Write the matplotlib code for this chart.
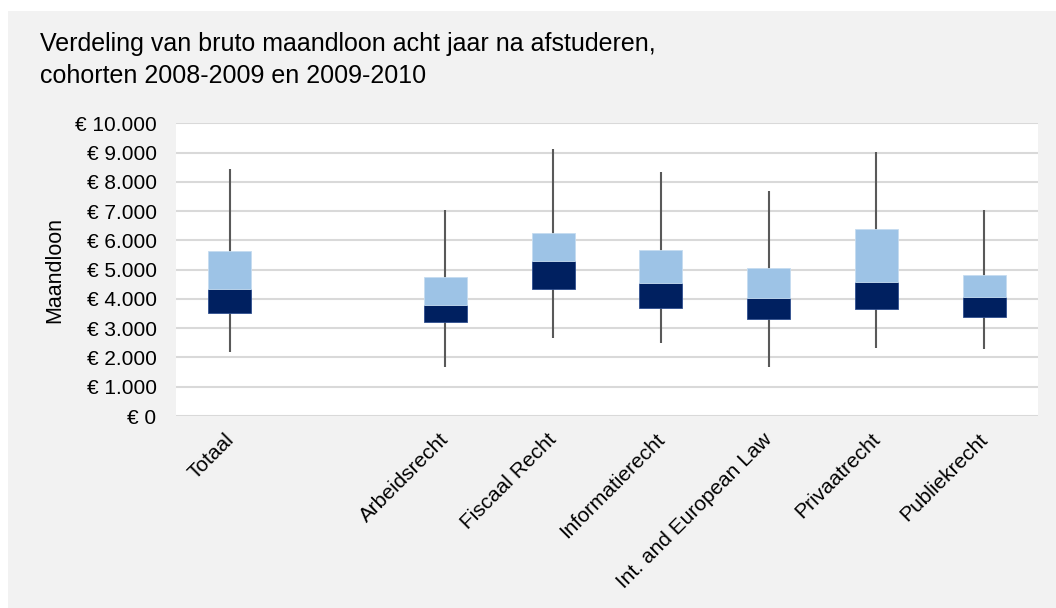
import matplotlib
matplotlib.use("Agg")
import matplotlib.pyplot as plt
import matplotlib.transforms as mtransforms
from matplotlib.patches import Rectangle
from matplotlib.ticker import FuncFormatter, MultipleLocator

plt.rcParams['font.family'] = ['Liberation Sans', 'DejaVu Sans']

categories = ["Totaal", "", "Arbeidsrecht", "Fiscaal Recht", "Informatierecht",
              "Int. and European Law", "Privaatrecht", "Publiekrecht"]
minimum = [2175, None, 1690, 2680, 2480, 1660, 2310, 2280]
q1      = [3520, None, 3220, 4350, 3680, 3310, 3670, 3380]
median  = [4350, None, 3780, 5300, 4540, 4020, 4570, 4070]
q3      = [5640, None, 4750, 6250, 5680, 5050, 6390, 4810]
maximum = [8430, None, 7050, 9130, 8340, 7670, 9010, 7050]

W, H = 1056, 608
fig = plt.figure(figsize=(W / 100, H / 100), dpi=100, facecolor='white')
fig.patches.append(Rectangle((8 / W, 0), 1 - 8 / W, 1 - 11 / H, transform=fig.transFigure,
                             facecolor='#f2f2f2', edgecolor='none', zorder=-10))

ax = fig.add_axes([176 / W, 1 - 416 / H, (1038 - 176) / W, (416 - 123.3) / H])
ax.set_facecolor('white')

xs = list(range(len(categories)))
bw = 0.4
for i in xs:
    if median[i] is None:
        continue
    ax.vlines(i, minimum[i], maximum[i], color='#595959', linewidth=1.5, zorder=2)
    ax.bar(i, median[i] - q1[i], bottom=q1[i], width=bw, color='#002060',
           edgecolor='#2f4f8f', linewidth=0.6, zorder=3)
    ax.bar(i, q3[i] - median[i], bottom=median[i], width=bw, color='#9dc3e6',
           edgecolor='#c5dcf0', linewidth=0.6, zorder=3)

ax.set_xlim(-0.5, len(categories) - 0.5)
ax.set_ylim(0, 10000)
ax.yaxis.set_major_locator(MultipleLocator(1000))
ax.yaxis.set_major_formatter(FuncFormatter(lambda v, p: "€ " + f"{int(v):,}".replace(",", ".")))
ax.grid(axis='y', color='#d9d9d9', linewidth=1.5, zorder=0)
ax.set_axisbelow(True)
for s in ax.spines.values():
    s.set_visible(False)
ax.tick_params(axis='both', length=0, labelsize=15, colors='black')
ax.tick_params(axis='y', pad=14)
ax.set_xticks(xs)
ax.set_xticklabels(categories, rotation=45, ha='right', rotation_mode='anchor',
                   fontsize=15)
ax.tick_params(axis='x', pad=10)
offset = mtransforms.ScaledTranslation(-6 / 100, 0, fig.dpi_scale_trans)
for lbl in ax.get_xticklabels():
    lbl.set_transform(lbl.get_transform() + offset)
ax.set_ylabel("Maandloon", fontsize=15.5, labelpad=7)

fig.text(40 / W, 1 - 60 / H, "Verdeling van bruto maandloon acht jaar na afstuderen,\ncohorten 2008-2009 en 2009-2010",
         fontsize=18, va='center', ha='left', linespacing=1.4)

fig.savefig("out.png", dpi=100, facecolor=fig.get_facecolor())
